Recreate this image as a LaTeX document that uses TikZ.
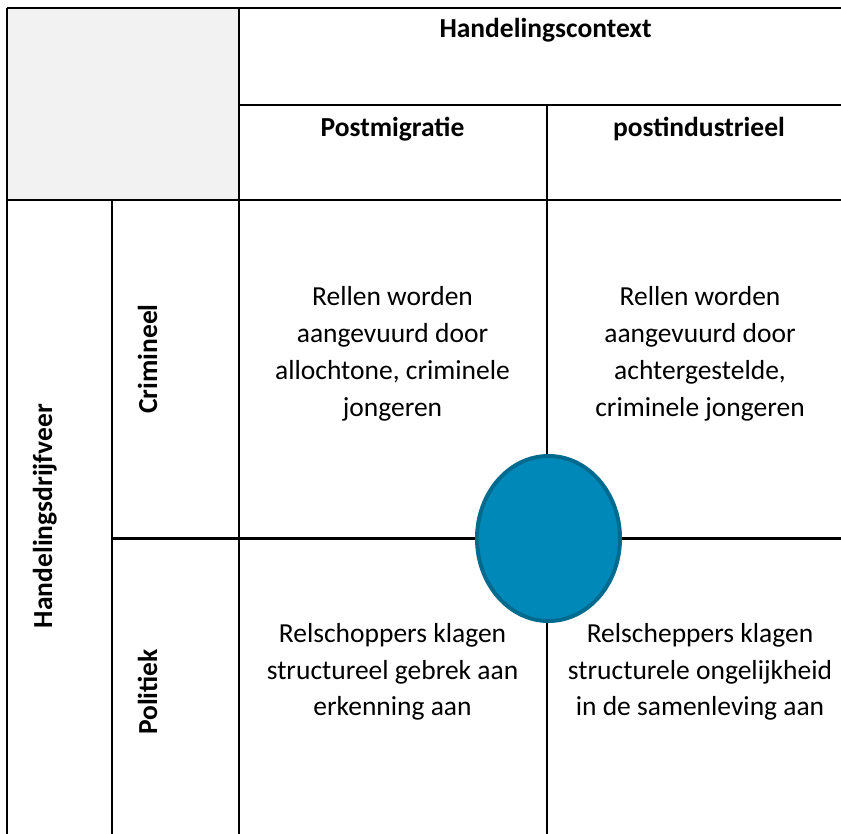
\documentclass[tikz,border=0pt]{standalone}
\usepackage{fontspec}
\setmainfont{Carlito}
\usetikzlibrary{shapes.geometric}
\definecolor{cellgray}{HTML}{F2F2F2}
\definecolor{blobfill}{HTML}{0088B8}
\definecolor{blobedge}{HTML}{006A8F}
\begin{document}
\begin{tikzpicture}[x=1pt,y=-1pt,
  gridline/.style={line width=2.2pt, black},
  body/.style={align=center, font=\fontsize{27.5}{36.8}\selectfont, inner sep=0pt},
  head/.style={font=\fontsize{27.5}{33}\selectfont\bfseries, inner sep=0pt, anchor=base},
  vhead/.style={head, rotate=90}]
\useasboundingbox (0,0) rectangle (841,834);
% shaded corner cell
\fill[cellgray] (6.7,8.3) rectangle (239.3,200);
% grid
\draw[gridline] (6.7,8.3) -- (841,8.3);
\draw[gridline] (6.7,8.3) -- (6.7,834);
\draw[gridline] (239.3,8.3) -- (239.3,834);
\draw[gridline] (547.3,105) -- (547.3,834);
\draw[gridline] (111.8,200) -- (111.8,834);
\draw[gridline] (239.3,105) -- (841,105);
\draw[gridline] (6.7,200) -- (841,200);
\draw[gridline] (111.8,538.5) -- (841,538.5);
% headers
\node[head] (ctx) at (545.5,38) {Handelingscontext};
\node[head] (pm) at (392.5,137) {Postmigratie};
\node[head] (pi) at (699,137) {postindustrieel};
\node[vhead] (drijf) at (52,516) {Handelingsdrijfveer};
\node[vhead] (crim) at (157,359) {Crimineel};
\node[vhead] (pol) at (157,692) {Politiek};
% cells
\node[body] (c11) at (392.5,354) {Rellen worden\\aangevuurd door\\allochtone, criminele\\jongeren};
\node[body] (c12) at (700,354) {Rellen worden\\aangevuurd door\\achtergestelde,\\criminele jongeren};
\node[body] (c21) at (392.5,672) {Relschoppers klagen\\structureel gebrek aan\\erkenning aan};
\node[body] (c22) at (700,672) {Relscheppers klagen\\structurele ongelijkheid\\in de samenleving aan};
% blob
\node[ellipse, draw=blobedge, fill=blobfill, line width=4pt,
      minimum width=143pt, minimum height=165pt, inner sep=0pt] (blob) at (548.5,538.5) {};
\end{tikzpicture}
\end{document}
